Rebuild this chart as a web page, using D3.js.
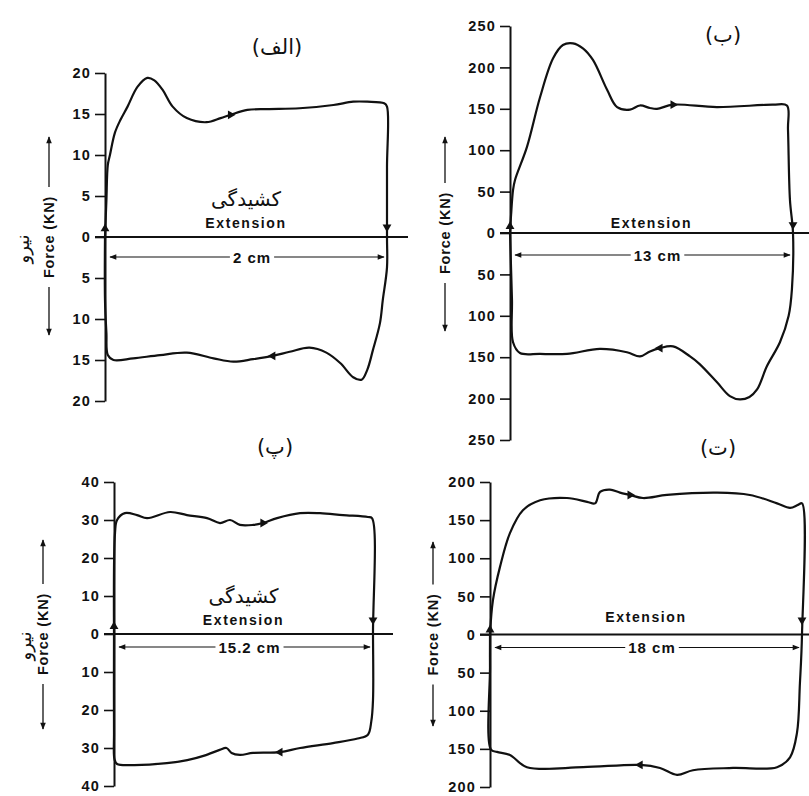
<!DOCTYPE html>
<meta charset="utf-8">
<html lang="fa"></html>

<!-- load d3.js -->
<script src="https://d3js.org/d3.v7.min.js"></script>

<style>
  body { margin: 0; background: #fff; }
  svg text { font-family: "Liberation Sans", Arial, sans-serif; fill: #111; }
  .fa { font-family: "DejaVu Sans", sans-serif; }
</style>

<div id="chart"></div>

<script>

    // loops: [extension (cm), force (kN)], going round the loop
    const loopA = [
        [0,0],[0.01,4.5],[0.02,8.8],[0.035,10],[0.07,12.7],[0.11,14.3],[0.16,15.9],[0.23,18.3],[0.30,19.4],
        [0.35,19.1],[0.41,17.9],[0.48,15.9],[0.58,14.5],[0.72,14.0],[0.82,14.5],[0.89,14.9],[1.01,15.5],
        [1.15,15.6],[1.38,15.7],[1.62,16.1],[1.76,16.5],[1.86,16.5],[1.98,16.3],[2.0,15.9],
        [2.0,8.5],[2.0,0],[2.0,-3.7],[1.97,-7.7],[1.95,-10.5],[1.90,-13.8],[1.86,-16.2],[1.82,-17.4],
        [1.76,-17.1],[1.67,-15.4],[1.57,-14.1],[1.45,-13.5],[1.31,-14.0],[1.19,-14.5],[1.05,-14.9],
        [0.91,-15.2],[0.77,-14.8],[0.58,-14.1],[0.39,-14.4],[0.20,-14.8],[0.06,-15.0],[0.02,-14.4],
        [0.01,-11.7],[0,-7.7],[0,0]
    ];
    const loopB = [
        [0,0],[0.05,22],[0.14,52],[0.23,64],[0.78,104],[1.38,164],[1.98,211],[2.43,227],[2.89,229],
        [3.35,223],[3.81,209],[4.46,173],[4.92,152],[5.51,149],[5.97,154],[6.43,151],[6.75,150],
        [7.49,155],[9.5,152],[12.08,155],[12.72,154],[12.77,125],
        [12.86,40],[13,0],[12.95,-68],[12.8,-100],[12.4,-132],[11.8,-161],[11.35,-189],[11.0,-198],
        [10.56,-201],[10.1,-197],[9.5,-180],[8.7,-158],[8.27,-149],[7.49,-137],[6.89,-139],[6.43,-143],
        [5.97,-149],[5.37,-144],[4.13,-140],[2.62,-146],[1.38,-146],[0.46,-145],[0.14,-132],[0.09,-80],[0,0]
    ];
    const loopC = [
        [0,0],[0.06,26.6],[0.18,30],[0.64,31.8],[1.35,31.3],[1.94,30.5],[3.29,32.1],[4.28,31.3],[5.46,30.5],
        [6.22,29.2],[6.81,30],[7.39,28.7],[8.16,28.7],[8.74,29.2],[9.57,30.5],[10.92,31.8],[12.09,31.8],
        [13.44,31.3],[14.9,30.8],[15.14,30.5],
        [15.2,0],[15.2,-17.4],[15.1,-23],[14.9,-26.5],[14.3,-27.5],[12.85,-28.7],[10.92,-30],[9.74,-31.1],
        [8.16,-31.3],[7.39,-31.8],[6.9,-31.3],[6.6,-30],[6.2,-30.5],[5.3,-32],[4.3,-33.2],[3.1,-34],
        [1.12,-34.5],[0.18,-34.2],[0.03,-33],[0,-26],[0,0]
    ];
    const loopD = [
        [0,0],[0.17,45],[0.58,89],[1.15,133],[1.9,163],[2.89,176],[4.44,179],[5.6,174],[6.06,172],
        [6.35,187],[6.92,190],[7.5,186],[8.08,183],[8.83,179],[10.21,183],[13.1,186],[14.99,183],
        [16.56,172],[17.31,166],[17.77,170],[18,172],
        [18,0],[17.88,-64],[17.71,-129],[17.31,-161],[16.56,-174],[14.02,-175],[11.71,-178],[10.79,-184],
        [9.81,-175],[8.66,-171],[5.37,-174],[2.13,-174],[1.15,-158],[0.40,-154],[0.06,-151],[0,-43],[0,0]
    ];

    // direction arrows sitting on each loop: [cm, kN, direction]
    const arrowsA = [[0,1,"up"],[0.89,14.9,"right"],[2.0,1.2,"down"],[1.19,-14.5,"left"]];
    const arrowsB = [[0,8,"up"],[7.49,155,"right"],[13,10,"down"],[6.89,-139,"left"]];
    const arrowsC = [[0,2,"up"],[8.74,29.2,"right"],[15.2,3.7,"down"],[9.74,-31.1,"left"]];
    const arrowsD = [[0,6,"up"],[8.08,183,"right"],[18,19,"down"],[8.66,-171,"left"]];

    // tick labels (printed without sign)
    const ticksA = [20,15,10,5,0,-5,-10,-15,-20];
    const ticksB = [250,200,150,100,50,0,-50,-100,-150,-200,-250];
    const ticksC = [40,30,20,10,0,-10,-20,-30,-40];
    const ticksD = [200,150,100,50,0,-50,-100,-150,-200];

    // total extension of each test and the texts
    const spans = [2, 13, 15.2, 18];
    const spanLabels = ["2 cm", "13 cm", "15.2 cm", "18 cm"];
    const titles = ["(الف)", "(ب)", "(پ)", "(ت)"];

    // panel placement on the page
    const panels = [
        {loop: loopA, arrows: arrowsA, ticks: ticksA, span: spans[0], spanLabel: spanLabels[0], title: titles[0],
         x0: 105, x1: 387, yBottom: 401, yTop: 73, zeroEnd: 408, dimDy: 20, extDy: -14,
         title_xy: [277, 47], ylabX: 49, arrowTop: 137, arrowBot: 335, fa: true, faLabelX: 22},
        {loop: loopB, arrows: arrowsB, ticks: ticksB, span: spans[1], spanLabel: spanLabels[1], title: titles[1],
         x0: 510, x1: 793, yBottom: 440, yTop: 26, zeroEnd: 809, dimDy: 22, extDy: -10,
         title_xy: [723, 35], ylabX: 445, arrowTop: 137, arrowBot: 331, fa: false},
        {loop: loopC, arrows: arrowsC, ticks: ticksC, span: spans[2], spanLabel: spanLabels[2], title: titles[2],
         x0: 114, x1: 373, yBottom: 786, yTop: 482, zeroEnd: 393, dimDy: 13, extDy: -14,
         title_xy: [275, 447], ylabX: 43, arrowTop: 540, arrowBot: 729, fa: true, faLabelX: 24},
        {loop: loopD, arrows: arrowsD, ticks: ticksD, span: spans[3], spanLabel: spanLabels[3], title: titles[3],
         x0: 490, x1: 802, yBottom: 787, yTop: 482, zeroEnd: 809, dimDy: 13, extDy: -18,
         title_xy: [718, 448], ylabX: 433, arrowTop: 542, arrowBot: 726, fa: false}
    ];

    const svg = d3.select("#chart")
        .append("svg")
            .attr("width", 809)
            .attr("height", 796);

    // arrow head for the dimension and force arrows
    svg.append("defs").append("marker")
        .attr("id", "head")
        .attr("viewBox", "0 -5 10 10")
        .attr("refX", 9)
        .attr("markerWidth", 9)
        .attr("markerHeight", 7)
        .attr("markerUnits", "userSpaceOnUse")
        .attr("orient", "auto-start-reverse")
        .append("path")
            .attr("d", "M0,-4L10,0L0,4Z")
            .attr("fill", "#111");

    const rot = {up: 0, right: 90, down: 180, left: -90};

    panels.forEach(function(p, i) {
        const maxF = d3.max(p.ticks);
        const x = d3.scaleLinear().domain([0, p.span]).range([p.x0, p.x1]);
        const y = d3.scaleLinear().domain([-maxF, maxF]).range([p.yBottom, p.yTop]);
        const g = svg.append("g");
        const zy = y(0);

        // Y axis
        const ax = g.append("g")
            .attr("transform", "translate(" + p.x0 + ",0)")
            .call(d3.axisLeft(y).tickValues(p.ticks).tickSize(10).tickSizeOuter(0).tickPadding(4)
                .tickFormat(function(d) { return Math.abs(d); }));
        ax.select(".domain").attr("stroke", "#111").attr("stroke-width", 2);
        ax.selectAll(".tick line").attr("stroke", "#111").attr("stroke-width", 1.6);
        ax.selectAll(".tick text")
            .attr("fill", "#111")
            .style("font-size", "14.5px")
            .style("font-weight", "bold")
            .style("letter-spacing", "1.2px");

        // zero line
        g.append("line")
            .attr("x1", p.x0 - 10).attr("x2", p.zeroEnd)
            .attr("y1", zy).attr("y2", zy)
            .attr("stroke", "#111").attr("stroke-width", 1.8);

        // the loop
        const line = d3.line()
            .x(function(d) { return x(d[0]); })
            .y(function(d) { return y(d[1]); })
            .curve(d3.curveCatmullRom.alpha(0.5));
        g.append("path")
            .datum(p.loop)
            .attr("d", line)
            .attr("fill", "none")
            .attr("stroke", "#111")
            .attr("stroke-width", 2.2)
            .attr("stroke-linejoin", "round");

        // direction arrows on the loop
        g.selectAll(".dir")
            .data(p.arrows)
            .enter()
            .append("path")
                .attr("class", "dir")
                .attr("d", d3.symbol(d3.symbolTriangle, 34))
                .attr("transform", function(d) {
                    return "translate(" + x(d[0]) + "," + y(d[1]) + ")rotate(" + rot[d[2]] + ")";
                })
                .attr("fill", "#111");

        // extension dimension arrow, label sits in a gap of the line
        const dimY = zy + p.dimDy;
        const midX = (x(0) + x(p.span)) / 2;
        g.append("line")
            .attr("x1", x(0) + 5).attr("x2", x(p.span) - 3)
            .attr("y1", dimY).attr("y2", dimY)
            .attr("stroke", "#111").attr("stroke-width", 1.2)
            .attr("marker-start", "url(#head)")
            .attr("marker-end", "url(#head)");
        const gapBox = g.append("rect").attr("fill", "#fff");
        const dimText = g.append("text")
            .text(p.spanLabel)
            .attr("x", midX + 6).attr("y", dimY)
            .attr("text-anchor", "middle")
            .attr("dominant-baseline", "central")
            .style("font-size", "15px")
            .style("font-weight", "bold")
            .style("letter-spacing", "1px");
        const bb = dimText.node().getBBox();
        gapBox.attr("x", bb.x - 3).attr("y", dimY - 3)
            .attr("width", bb.width + 6).attr("height", 6);

        // "Extension" label and Persian word above it
        g.append("text")
            .text("Extension")
            .attr("x", midX).attr("y", zy + p.extDy)
            .attr("text-anchor", "middle")
            .attr("dominant-baseline", "central")
            .style("font-size", "14px")
            .style("font-weight", "bold")
            .style("letter-spacing", "1.6px");
        if (p.fa) {
            g.append("text")
                .attr("class", "fa")
                .text("کشیدگی")
                .attr("x", midX).attr("y", zy + p.extDy - 24)
                .attr("text-anchor", "middle")
                .attr("dominant-baseline", "central")
                .style("font-size", "20px");
        }

        // panel title
        g.append("text")
            .attr("class", "fa")
            .text(p.title)
            .attr("x", p.title_xy[0]).attr("y", p.title_xy[1])
            .attr("text-anchor", "middle")
            .attr("dominant-baseline", "central")
            .style("font-size", "21px");

        // vertical force label with arrows
        const labMid = zy;
        g.append("text")
            .text("Force (KN)")
            .attr("transform", "translate(" + p.ylabX + "," + labMid + ")rotate(-90)")
            .attr("text-anchor", "middle")
            .attr("dominant-baseline", "central")
            .style("font-size", "14.5px")
            .style("font-weight", "bold")
            .style("letter-spacing", "0.8px");
        g.append("line")
            .attr("x1", p.ylabX).attr("x2", p.ylabX)
            .attr("y1", labMid - 50).attr("y2", p.arrowTop)
            .attr("stroke", "#111").attr("stroke-width", 1.3)
            .attr("marker-end", "url(#head)");
        g.append("line")
            .attr("x1", p.ylabX).attr("x2", p.ylabX)
            .attr("y1", labMid + 50).attr("y2", p.arrowBot)
            .attr("stroke", "#111").attr("stroke-width", 1.3)
            .attr("marker-end", "url(#head)");
        if (p.fa) {
            g.append("text")
                .attr("class", "fa")
                .text("نیرو")
                .attr("transform", "translate(" + p.faLabelX + "," + (labMid + 12) + ")rotate(-90)")
                .attr("text-anchor", "middle")
                .attr("dominant-baseline", "central")
                .style("font-size", "18px");
        }
    });
</script>
